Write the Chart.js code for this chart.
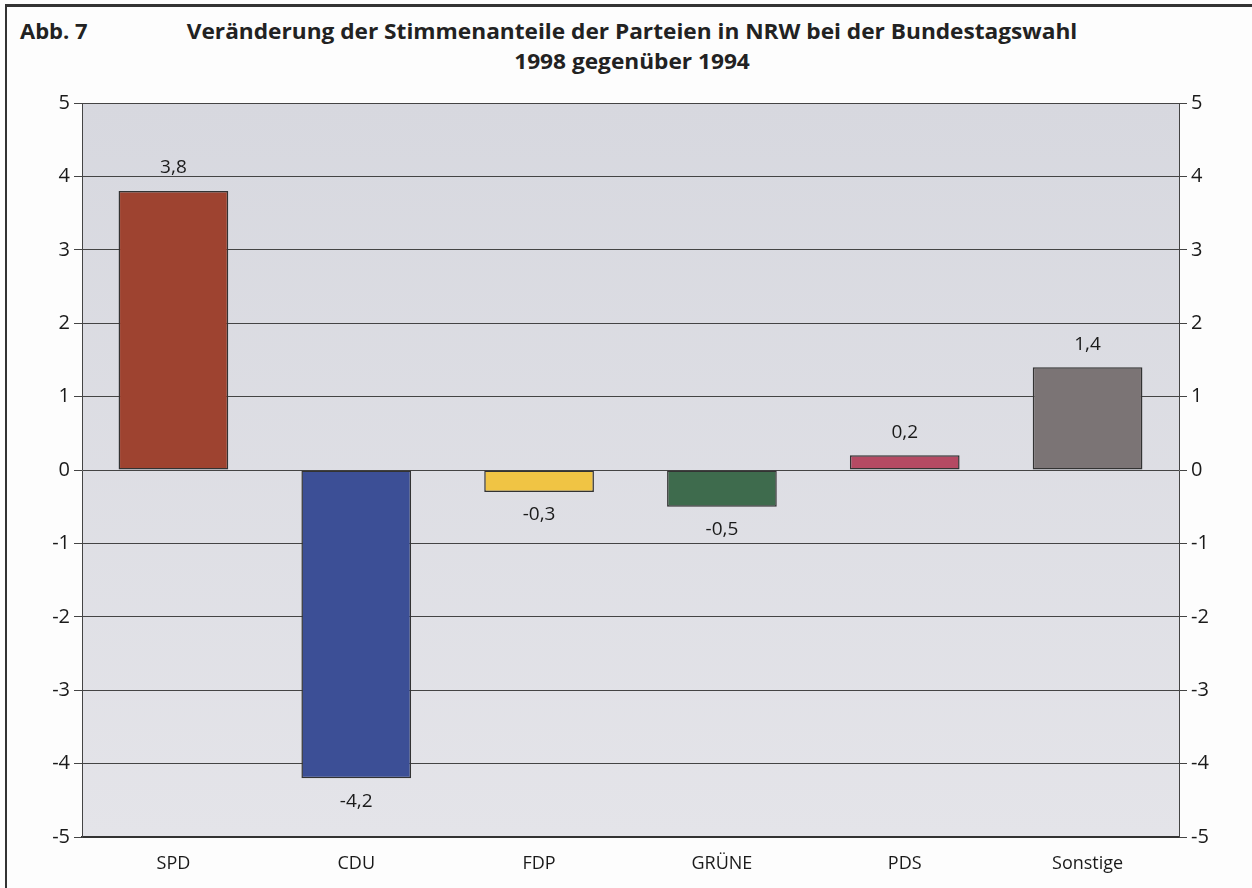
<!DOCTYPE html>
<html>
<head>
<meta charset="utf-8">
<script src="https://cdn.jsdelivr.net/npm/chart.js@4"></script>
<style>
  body { margin: 0; background: #fdfdfd; }
  #wrap { position: relative; width: 1252px; height: 888px; overflow: hidden; }
  #frame { position: absolute; left: 5px; top: 4px; width: 1260px; height: 900px;
           border-left: 2px solid #333; border-top: 3px solid #333; }
  .t { position: absolute; font-family: "Open Sans", sans-serif; font-weight: 700;
       font-size: 22px; color: #222; white-space: nowrap; }
  #abb { left: 20px; top: 15px; }
  #t1 { left: 632px; top: 15px; transform: translateX(-50%) scaleX(1.03); }
  #t2 { left: 632px; top: 45px; transform: translateX(-50%) scaleX(1.03); }
  canvas { position: absolute; left: 0; top: 0; }
</style>
</head>
<body>
<div id="wrap">
  <div id="frame"></div>
  <div class="t" id="abb">Abb. 7</div>
  <div class="t" id="t1">Veränderung der Stimmenanteile der Parteien in NRW bei der Bundestagswahl</div>
  <div class="t" id="t2">1998 gegenüber 1994</div>
  <canvas id="chart" width="1252" height="888"></canvas>
</div>
<script>
const parties = ["SPD", "CDU", "FDP", "GRÜNE", "PDS", "Sonstige"];
const change = [3.8, -4.2, -0.3, -0.5, 0.2, 1.4];
const barColors = ["#9e4330", "#3c4f96", "#f0c444", "#3e6b4d", "#b54a63", "#7b7475"];
const yTicks = [-5, -4, -3, -2, -1, 0, 1, 2, 3, 4, 5];

const fmt = v => String(v).replace(".", ",");

const plotBg = {
  id: "plotBg",
  beforeDraw(chart) {
    const { ctx, chartArea: a } = chart;
    const g = ctx.createLinearGradient(0, a.top, 0, a.bottom);
    g.addColorStop(0, "#d7d8df");
    g.addColorStop(1, "#e4e4e9");
    ctx.save();
    ctx.fillStyle = g;
    ctx.fillRect(a.left, a.top, a.right - a.left, a.bottom - a.top);
    ctx.restore();
  }
};

const valueLabels = {
  id: "valueLabels",
  afterDatasetsDraw(chart) {
    const { ctx } = chart;
    const meta = chart.getDatasetMeta(0);
    ctx.save();
    ctx.font = "19px 'Open Sans', sans-serif";
    ctx.fillStyle = "#1a1a1a";
    ctx.textAlign = "center";
    ctx.textBaseline = "middle";
    meta.data.forEach((bar, i) => {
      const v = change[i];
      const y = v >= 0 ? bar.y - 23 : bar.y + 23;
      ctx.fillText(fmt(v), bar.x, y);
    });
    ctx.restore();
  }
};

const tickOpts = {
  color: "#1a1a1a",
  font: { family: "'Open Sans', sans-serif", size: 20 },
  padding: 4
};

new Chart(document.getElementById("chart"), {
  type: "bar",
  data: {
    labels: parties,
    datasets: [{
      data: change,
      backgroundColor: barColors,
      borderColor: "#333",
      borderWidth: 1.5,
      borderSkipped: false,
      categoryPercentage: 1,
      barPercentage: 0.6
    }]
  },
  options: {
    responsive: false,
    animation: false,
    layout: { padding: { left: 0, right: 0, top: 103, bottom: 0 } },
    plugins: { legend: { display: false }, tooltip: { enabled: false } },
    scales: {
      x: {
        grid: { display: false },
        border: { color: "#333", width: 2 },
        ticks: { color: "#1a1a1a", font: { family: "'Open Sans', sans-serif", size: 18 }, padding: 8 },
        afterFit: s => { s.height = 51; }
      },
      y: {
        position: "left",
        min: -5, max: 5,
        afterBuildTicks: s => { s.ticks = yTicks.map(v => ({ value: v })); },
        ticks: { ...tickOpts, callback: v => fmt(v) },
        grid: { color: "#444", lineWidth: 1, tickLength: 8 },
        border: { color: "#444", width: 1 },
        afterFit: s => { s.width = 82; }
      },
      y2: {
        position: "right",
        min: -5, max: 5,
        afterBuildTicks: s => { s.ticks = yTicks.map(v => ({ value: v })); },
        ticks: { ...tickOpts, callback: v => fmt(v) },
        grid: { drawOnChartArea: false, color: "#444", tickLength: 8 },
        border: { color: "#444", width: 1 },
        afterFit: s => { s.width = 73; }
      }
    }
  },
  plugins: [plotBg, valueLabels]
});
</script>
</body>
</html>
